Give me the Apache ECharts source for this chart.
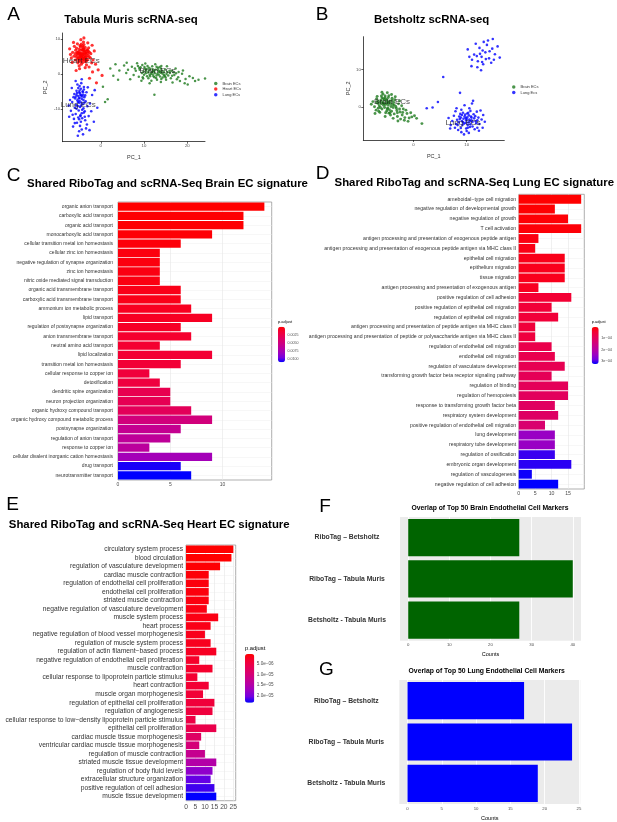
<!DOCTYPE html>
<html>
<head>
<meta charset="utf-8">
<title>Shared RiboTag and scRNA-Seq EC signatures</title>
<script src="https://cdn.jsdelivr.net/npm/echarts@6/dist/echarts.min.js"></script>
<style>
  html, body { margin: 0; padding: 0; background: #fff; }
  #chart { width: 617px; height: 822px; }
</style>
</head>
<body>
<div id="chart"></div>
<script>
// ---- data: scatter panels (PC_1, PC_2) ----
const tmBrain = [[12.3,0.8],[10.6,1.4],[14.1,0.2],[9.2,1.9],[15.6,-0.4],[11.4,-0.6],[13.2,1.7],[8.1,0.9],[16.8,0.5],[10.0,-0.2],[12.8,-1.1],[14.9,1.3],[7.2,2.1],[17.9,-0.9],[9.6,2.6],[11.9,2.2],[13.7,-0.7],[6.3,1.2],[18.8,0.1],[15.1,-1.6],[8.8,-0.8],[10.9,0.4],[12.0,-0.1],[13.5,0.6],[11.2,1.0],[14.5,-0.1],[9.9,0.7],[16.2,-1.2],[7.6,-0.3],[19.6,-1.4],[5.4,2.4],[4.3,1.0],[12.6,2.8],[10.3,3.0],[17.3,1.6],[14.0,2.3],[20.5,-0.6],[8.4,3.1],[15.9,0.9],[11.7,-1.9],[13.9,-2.3],[16.6,-2.4],[18.3,-2.0],[21.3,-1.1],[3.4,2.8],[2.2,1.6],[6.8,-1.5],[9.4,-1.9],[20.1,-3.0],[21.8,-2.0],[19.0,1.0],[12.9,-0.4],[11.6,0.1],[13.3,1.1],[10.2,1.5],[14.6,0.5],[12.1,1.3],[15.2,0.0],[9.0,1.2],[16.0,0.3],[11.0,-1.2],[13.0,-1.6],[7.9,1.6],[17.0,-0.3],[10.8,2.3],[8.6,2.3],[14.3,-1.0],[12.5,0.2],[5.9,0.3],[18.0,0.6],[22.6,-1.6],[24.1,-1.3],[1.0,-8.0],[1.6,-7.2],[12.4,-5.9],[0.5,-3.6],[4.0,-1.6],[2.9,-0.5],[6.0,3.2],[15.3,2.2],[17.6,-1.5],[19.4,-2.6],[11.3,-2.6],[13.6,2.0],[9.7,-0.9],[10.5,0.9],[12.2,-0.6],[14.8,-0.6],[16.4,0.9],[13.8,0.4],
  [11.8,0.5],[12.7,1.2],[13.4,-0.2],[10.4,0.2],[14.2,0.9],[11.1,1.8],[12.4,-0.9],[15.4,0.6],[9.5,0.3],[13.1,0.1],[10.7,-0.6],[14.7,-0.4],[12.0,0.7],[11.5,1.5],[13.9,1.6],[16.5,-0.5],[8.9,1.7],[12.9,2.1],[15.0,-1.0],[10.1,2.0],[13.7,0.8],[11.3,-0.2],[14.0,-1.4],[17.4,0.2],[9.8,-1.3]];
const tmHeart = [[-4.2,5.6],[-3.8,6.1],[-4.6,5.0],[-5.1,6.4],[-3.5,4.8],[-4.9,4.3],[-3.2,6.9],[-5.5,5.4],[-4.0,7.2],[-4.4,3.9],[-2.9,5.3],[-5.8,6.8],[-3.6,3.5],[-4.7,7.8],[-5.3,3.2],[-2.6,6.2],[-6.2,5.1],[-3.9,8.4],[-4.5,2.8],[-3.1,4.1],[-5.9,4.0],[-2.4,4.6],[-4.8,6.0],[-3.4,5.7],[-4.1,4.5],[-5.2,5.8],[-3.7,6.6],[-4.3,7.0],[-5.6,7.4],[-2.8,7.5],[-6.5,6.2],[-4.0,9.1],[-3.3,2.6],[-5.0,2.3],[-2.1,3.2],[-6.8,4.6],[-4.6,9.8],[-3.0,8.9],[-5.4,8.6],[-6.1,7.9],[-2.3,5.8],[-1.8,4.0],[-3.6,1.8],[-4.9,1.5],[-6.6,3.3],[-1.5,6.6],[-2.7,2.0],[-7.0,5.6],[-3.9,10.3],[-4.4,5.2],[-3.9,5.0],[-4.7,5.9],[-4.1,6.6],[-3.5,6.0],[-5.0,4.9],[-4.5,4.6],[-3.8,4.0],[-5.3,6.2],[-2.9,6.4],[-4.2,8.0],[-1.2,2.8],[-0.6,1.2],[-1.9,0.6],[0.3,-0.4],[-2.6,-1.2],[-1.0,-2.5],[-5.7,1.0],[-7.2,7.2],[-2.0,8.2],[-6.3,9.0],
  [-4.3,5.9],[-3.7,5.3],[-4.9,5.6],[-4.0,4.2],[-5.2,4.6],[-3.3,5.0],[-4.6,6.8],[-3.9,6.9],[-5.0,7.1],[-4.4,4.9],[-3.4,6.4],[-5.5,6.1],[-4.8,3.6],[-3.6,7.6],[-4.2,3.3],[-5.7,5.0],[-3.1,5.9],[-4.5,8.5],[-5.1,3.8],[-3.8,4.6],[-2.7,4.9],[-4.0,5.7],[-4.7,5.3],[-3.5,4.3],[-5.4,4.4],[-4.1,7.6],[-3.0,6.8],[-5.9,5.8],[-4.8,8.1],[-3.3,3.8]];
const tmLung = [[-4.8,-5.5],[-5.2,-6.3],[-4.4,-7.1],[-5.6,-4.8],[-4.1,-5.9],[-5.0,-8.2],[-3.8,-6.6],[-5.9,-7.0],[-4.6,-4.2],[-5.3,-9.1],[-4.2,-8.6],[-6.1,-5.7],[-3.5,-7.8],[-4.9,-3.4],[-5.7,-8.8],[-4.0,-9.8],[-6.3,-6.6],[-3.3,-5.2],[-5.1,-10.4],[-4.5,-2.6],[-6.0,-9.6],[-3.9,-11.0],[-5.4,-3.0],[-4.7,-11.8],[-6.6,-8.0],[-3.1,-9.2],[-5.8,-11.4],[-4.3,-12.6],[-6.9,-10.5],[-3.6,-13.2],[-5.5,-13.9],[-4.8,-14.8],[-6.2,-12.8],[-3.4,-15.5],[-5.0,-16.3],[-4.1,-17.2],[-6.4,-15.0],[-2.8,-12.0],[-2.5,-8.4],[-7.1,-7.4],[-2.2,-10.6],[-4.4,-1.5],[-5.8,-2.0],[-3.0,-3.8],[-6.7,-4.0],[-2.0,-6.0],[-7.3,-12.2],[-1.6,-13.6],[-2.6,-16.0],[-5.3,-17.6],[-4.9,-6.8],[-4.5,-6.1],[-5.4,-7.5],[-4.2,-4.9],[-5.0,-5.2],[-4.6,-9.0],[-3.8,-8.2],[-5.6,-6.0],[-4.3,-10.2],[-3.9,-4.4],[-1.4,-4.6],[-7.4,-9.0],[-0.8,-9.6],[-3.2,-14.4],[-6.0,-14.0],[-4.7,-12.0],[-4.4,-15.8],[-5.2,-12.4],[-3.7,-10.6],[-6.5,-11.6],
  [-4.7,-6.0],[-5.1,-7.0],[-4.3,-6.4],[-5.5,-5.4],[-4.0,-7.4],[-4.9,-4.7],[-5.3,-8.0],[-4.5,-8.1],[-3.6,-6.1],[-5.8,-6.5],[-4.1,-5.2],[-4.8,-9.4],[-5.6,-9.9],[-3.9,-3.7],[-5.2,-4.0],[-4.4,-11.2],[-5.0,-12.9],[-3.7,-12.2],[-4.6,-13.6],[-4.9,-7.7]];
const tmLabelNames = ['Heart ECs', 'Brain ECs', 'Lung ECs'];
const tmLabelX = [-4.5, 13.1, -5.2];
const tmLabelY = [3.7, 0.9, -8.9];

const bzBrain = [[-5.0,1.0],[-5.6,0.4],[-4.4,1.6],[-6.1,1.8],[-4.8,-0.3],[-5.9,-0.6],[-3.9,0.6],[-6.6,0.9],[-5.3,2.4],[-4.1,-1.2],[-6.9,2.2],[-5.2,-1.6],[-3.5,1.9],[-7.3,0.0],[-4.6,3.0],[-6.3,-1.5],[-3.2,-0.4],[-7.6,1.4],[-5.7,3.4],[-4.3,-2.2],[-2.8,0.8],[-6.0,2.9],[-3.6,-1.9],[-2.5,-1.4],[-7.0,-0.9],[-4.9,3.8],[-3.0,-2.6],[-2.1,-2.2],[-1.6,-2.9],[-1.2,-1.8],[-2.4,-3.3],[-0.8,-3.0],[-3.8,-3.1],[-1.9,-0.6],[-5.5,0.9],[-4.7,0.5],[-5.1,1.7],[-4.2,0.1],[-6.4,0.3],[-5.8,1.3],[-4.5,-0.8],[-5.4,-0.2],[-3.7,1.2],[-6.7,1.6],[-4.0,2.3],[-5.0,2.0],[-6.2,-0.2],[-3.3,0.1],[-7.9,0.7],[-6.8,2.8],[-2.2,0.3],[-1.4,-0.9],[-0.5,-1.6],[0.2,-2.4],[-2.9,-3.8],[-1.0,-3.9],[-4.1,3.3],[-7.2,-1.8],[-5.3,-2.6],[-3.4,2.7],[-5.9,3.9],[-2.6,1.6],[-6.5,-1.2],[-4.6,-1.7],[-3.1,-1.0],[-2.0,-1.5],[-0.3,-2.7],[-1.7,-3.6],[-4.8,1.3],[-5.6,2.2],[1.6,-4.5],[0.6,-3.1],
  [-5.2,0.6],[-4.6,1.1],[-5.7,1.0],[-4.9,-0.6],[-5.5,1.9],[-4.3,0.9],[-6.0,0.8],[-5.0,-1.1],[-4.0,1.7],[-6.3,1.3],[-3.8,-0.2],[-5.3,2.9],[-4.4,-1.6],[-6.6,-0.4],[-3.6,0.5],[-5.9,2.4],[-3.0,-1.6],[-2.6,-0.6],[-4.7,2.5],[-6.9,1.1]];
const bzLung = [[9.8,-3.0],[10.4,-2.3],[9.1,-3.8],[10.9,-3.6],[8.6,-2.6],[9.5,-4.5],[11.3,-2.0],[10.2,-4.9],[8.2,-3.5],[11.7,-3.9],[9.3,-1.6],[10.7,-1.1],[8.0,-4.6],[11.1,-5.3],[9.9,-5.8],[12.2,-2.9],[7.6,-2.4],[8.9,-5.7],[12.4,-4.6],[10.5,-0.4],[7.3,-3.8],[11.9,-1.3],[9.0,-0.8],[12.8,-3.4],[10.0,-6.5],[8.4,-6.2],[11.5,-6.0],[7.0,-4.9],[13.1,-2.2],[9.6,0.4],[11.0,0.9],[8.8,-1.9],[10.1,-2.8],[9.4,-3.2],[10.6,-3.9],[9.7,-2.1],[10.3,-4.2],[8.9,-2.9],[11.4,-3.1],[9.2,-4.9],[10.8,-2.6],[9.9,-3.6],[10.1,-1.8],[8.5,-4.1],[11.8,-4.4],[12.0,-5.6],[6.6,-3.0],[7.8,-5.6],[13.4,-4.0],[10.4,-7.0],[9.0,-6.8],[12.6,-1.0],[11.2,1.6],[7.9,-1.2],[13.0,-5.6],[10.6,-5.4],[8.1,-0.4],[12.3,-6.4],[9.5,-7.4],[6.9,-5.8],
  [10.0,-3.3],[9.6,-2.6],[10.5,-3.4],[9.3,-4.1],[10.9,-2.9],[9.8,-4.3],[10.3,-1.6],[11.1,-4.0],[8.7,-3.3],[11.6,-2.5],[10.2,-5.6],[9.1,-2.2],[12.0,-3.6],[8.3,-4.9],[10.7,-4.7],
  [12.8,13.4],[13.5,14.6],[12.1,12.2],[14.2,13.0],[11.4,14.0],[13.1,11.4],[14.8,15.6],[12.4,15.8],[11.0,12.6],[15.3,14.1],[13.8,16.6],[12.0,10.6],[14.6,11.8],[10.5,13.4],[13.2,17.4],[15.8,16.2],[11.7,16.9],[14.0,17.8],[12.7,9.8],[10.9,10.9],[15.1,12.6],[13.6,12.8],[12.5,14.2],[11.9,13.6],[14.3,14.9],[13.0,15.1],[16.2,13.2],[10.2,15.4],[14.9,18.2],[12.9,12.0],
  [5.6,8.0],[8.75,3.75],[4.6,1.3],[3.6,-0.2],[2.5,-0.4]];
const bzLabelNames = ['Brain ECs', 'Lung ECs'];
const bzLabelX = [-4.0, 9.3];
const bzLabelY = [1.3, -4.3];

const tmXTicks = [0, 10, 20];
const tmYTicks = [-10, 0, 10];
const bzXTicks = [0, 10];
const bzYTicks = [0, 10];

// ---- data: GO enrichment bar panels ----
const brainTerms = ['organic anion transport','carboxylic acid transport','organic acid transport','monocarboxylic acid transport','cellular transition metal ion homeostasis','cellular zinc ion homeostasis','negative regulation of synapse organization','zinc ion homeostasis','nitric oxide mediated signal transduction','organic acid transmembrane transport','carboxylic acid transmembrane transport','ammonium ion metabolic process','lipid transport','regulation of postsynapse organization','anion transmembrane transport','neutral amino acid transport','lipid localization','transition metal ion homeostasis','cellular response to copper ion','detoxification','dendritic spine organization','neuron projection organization','organic hydroxy compound transport','organic hydroxy compound metabolic process','postsynapse organization','regulation of anion transport','response to copper ion','cellular divalent inorganic cation homeostasis','drug transport','neurotransmitter transport'];
const brainCounts = [14,12,12,9,6,4,4,4,4,6,6,7,9,6,7,4,9,6,3,4,5,5,7,9,6,5,3,9,6,7];
const brainPadj = [0.00002,0.0001,0.0001,0.0002,0.0003,0.0004,0.0004,0.0005,0.0005,0.0007,0.0007,0.0009,0.0010,0.0011,0.0013,0.0014,0.0015,0.0016,0.0018,0.0020,0.0027,0.0029,0.0032,0.0048,0.0058,0.0062,0.0064,0.0077,0.0106,0.0109];
const brainTicks = [0, 5, 10];
const brainPadjTicks = [0.0025, 0.0050, 0.0075, 0.0100];
const brainPadjLabels = ['0.0025', '0.0050', '0.0075', '0.0100'];

const lungTerms = ['ameboidal\u2212type cell migration','negative regulation of developmental growth','negative regulation of growth','T cell activation','antigen processing and presentation of exogenous peptide antigen','antigen processing and presentation of exogenous peptide antigen via MHC class II','epithelial cell migration','epithelium migration','tissue migration','antigen processing and presentation of exogenous antigen','positive regulation of cell adhesion','positive regulation of epithelial cell migration','regulation of epithelial cell migration','antigen processing and presentation of peptide antigen via MHC class II','antigen processing and presentation of peptide or polysaccharide antigen via MHC class II','regulation of endothelial cell migration','endothelial cell migration','regulation of vasculature development','transforming growth factor beta receptor signaling pathway','regulation of binding','regulation of hemopoiesis','response to transforming growth factor beta','respiratory system development','positive regulation of endothelial cell migration','lung development','respiratory tube development','regulation of ossification','embryonic organ development','regulation of vasculogenesis','negative regulation of cell adhesion'];
const lungCounts = [19,11,15,19,6,5,14,14,14,6,16,10,12,5,5,10,11,14,10,15,15,11,12,8,11,11,11,16,4,12];
const lungPadj = [1e-6,3e-6,5e-6,8e-6,1.5e-5,1.8e-5,2.2e-5,2.3e-5,2.4e-5,2.8e-5,4.5e-5,5.0e-5,5.2e-5,5.5e-5,5.8e-5,7.5e-5,8.0e-5,8.5e-5,9.0e-5,9.5e-5,1.0e-4,1.05e-4,1.1e-4,1.25e-4,2.45e-4,2.45e-4,3.05e-4,3.1e-4,3.2e-4,3.25e-4];
const lungTicks = [0, 5, 10, 15];
const lungPadjTicks = [1e-4, 2e-4, 3e-4];
const lungPadjLabels = ['1e\u221204', '2e\u221204', '3e\u221204'];

const heartTerms = ['circulatory system process','blood circulation','regulation of vasculature development','cardiac muscle contraction','regulation of endothelial cell proliferation','endothelial cell proliferation','striated muscle contraction','negative regulation of vasculature development','muscle system process','heart process','negative regulation of blood vessel morphogenesis','regulation of muscle system process','regulation of actin filament\u2212based process','negative regulation of endothelial cell proliferation','muscle contraction','cellular response to lipoprotein particle stimulus','heart contraction','muscle organ morphogenesis','regulation of epithelial cell proliferation','regulation of angiogenesis','cellular response to low\u2212density lipoprotein particle stimulus','epithelial cell proliferation','cardiac muscle tissue morphogenesis','ventricular cardiac muscle tissue morphogenesis','regulation of muscle contraction','striated muscle tissue development','regulation of body fluid levels','extracellular structure organization','positive regulation of cell adhesion','muscle tissue development'];
const heartCounts = [25,24,18,12,12,12,12,11,17,13,10,13,16,7,14,6,12,9,15,14,5,16,8,7,10,16,14,13,15,16];
const heartPadj = [1e-7,1e-7,3e-7,6e-7,8e-7,9e-7,1.0e-6,1.2e-6,1.3e-6,1.5e-6,1.7e-6,1.9e-6,2.2e-6,2.6e-6,2.8e-6,3.1e-6,3.3e-6,3.6e-6,3.9e-6,4.2e-6,4.8e-6,5.5e-6,8.0e-6,1.0e-5,1.25e-5,1.5e-5,1.85e-5,2.1e-5,2.2e-5,2.36e-5];
const heartTicks = [0, 5, 10, 15, 20, 25];
const heartPadjTicks = [5e-6, 1e-5, 1.5e-5, 2e-5];
const heartPadjLabels = ['5.0e\u221206', '1.0e\u221205', '1.5e\u221205', '2.0e\u221205'];

// ---- data: overlap panels ----
const overlapPairs = ['RiboTag \u2013 Betsholtz', 'RiboTag \u2013 Tabula Muris', 'Betsholtz - Tabula Muris'];
const brainOverlap = [27, 40, 27];
const lungOverlap = [17, 24, 19];
const brainOverlapTicks = [0, 10, 20, 30, 40];
const lungOverlapTicks = [0, 5, 10, 15, 20, 25];

// ---- styling ----
const FONT = "'Liberation Sans', Arial, sans-serif";
// red -> blue as ggplot interpolates it (Lab space), sampled at 9 stops
const PADJ_COLORS = ['#FF0000','#F40031','#E80050','#DA006C','#C90089','#B500A5','#9A00C3','#7300E0','#0000FF'];
const EXPAND = 0.05;

const chart = echarts.init(document.getElementById('chart'), null, { renderer: 'canvas' });

const option = {
  animation: false,
  backgroundColor: '#fff',
  textStyle: { fontFamily: FONT },
  grid: [], xAxis: [], yAxis: [], series: [], visualMap: [], legend: [], graphic: []
};

function txt(x, y, text, font, align, color, rotation) {
  option.graphic.push({
    type: 'text', x: x, y: y, rotation: rotation || 0, silent: true,
    style: {
      text: text, font: font, fill: color || '#000',
      align: align || 'center', verticalAlign: 'middle',
      textAlign: align || 'center', textVerticalAlign: 'middle'
    }
  });
}

// scatter panel (A, B)
function addScatterPanel(box, xRange, yRange, xTicks, yTicks, nameGaps) {
  const gi = option.grid.length;
  option.grid.push({ left: box[0], top: box[1], width: box[2], height: box[3] });
  option.xAxis.push({
    gridIndex: gi, type: 'value', min: xRange[0], max: xRange[1],
    axisLine: { onZero: false, lineStyle: { color: '#000', width: 0.7 } },
    axisTick: { length: 2, customValues: xTicks, lineStyle: { color: '#000', width: 0.6 } },
    axisLabel: { customValues: xTicks, fontSize: 4.3, color: '#4D4D4D', margin: 2.5 },
    splitLine: { show: false },
    name: 'PC_1', nameLocation: 'middle', nameGap: nameGaps[0],
    nameTextStyle: { fontSize: 5.5, color: '#333' }
  });
  option.yAxis.push({
    gridIndex: gi, type: 'value', min: yRange[0], max: yRange[1],
    axisLine: { onZero: false, lineStyle: { color: '#000', width: 0.7 } },
    axisTick: { length: 2, customValues: yTicks, lineStyle: { color: '#000', width: 0.6 } },
    axisLabel: { customValues: yTicks, fontSize: 4.3, color: '#4D4D4D', margin: 2.5 },
    splitLine: { show: false },
    name: 'PC_2', nameLocation: 'middle', nameGap: nameGaps[1], nameRotate: 90,
    nameTextStyle: { fontSize: 5.5, color: '#333' }
  });
  return gi;
}

function addPoints(gi, name, points, color, size) {
  option.series.push({
    type: 'scatter', name: name, xAxisIndex: gi, yAxisIndex: gi,
    data: points, symbolSize: size, silent: true,
    itemStyle: { color: color }
  });
}

function addClusterLabels(gi, names, xs, ys) {
  option.series.push({
    type: 'scatter', xAxisIndex: gi, yAxisIndex: gi, symbolSize: 0, silent: true, z: 5,
    data: names.map((n, i) => [xs[i], ys[i], n]),
    label: {
      show: true, position: 'inside', formatter: p => p.data[2],
      fontSize: 8, color: '#1A1A1A', fontFamily: FONT
    }
  });
}

// GO barplot panel (C, D, E)
function addGoPanel(box, terms, counts, padj, ticks, labelSize, labelMargin, bar, padjTicks, padjLabels, legendFont) {
  const gi = option.grid.length;
  option.grid.push({
    left: box[0], top: box[1], width: box[2], height: box[3],
    show: true, backgroundColor: '#fff', borderColor: '#8C8C8C', borderWidth: 0.7
  });
  option.xAxis.push({
    gridIndex: gi, type: 'value', min: 0, max: Math.max(...counts) * (1 + EXPAND),
    axisLine: { show: false, onZero: false },
    axisTick: { length: 1.8, customValues: ticks, lineStyle: { color: '#333', width: 0.5 } },
    axisLabel: { customValues: ticks, fontSize: labelSize, color: '#4D4D4D', margin: 2.5 },
    splitLine: { show: true, lineStyle: { color: '#E6E6E6', width: 0.6 } }
  });
  option.yAxis.push({
    gridIndex: gi, type: 'category', inverse: true, data: terms,
    axisLine: { show: false },
    axisTick: { length: 1.5, alignWithLabel: true, lineStyle: { color: '#333', width: 0.5 } },
    axisLabel: { interval: 0, fontSize: labelSize, color: '#333', margin: labelMargin },
    splitLine: { show: true, alignWithLabel: true, lineStyle: { color: '#EFEFEF', width: 0.5 } }
  });
  const si = option.series.length;
  option.series.push({
    type: 'bar', xAxisIndex: gi, yAxisIndex: gi, silent: true,
    barCategoryGap: '10%',
    encode: { x: 0, y: 1 },
    data: terms.map((t, i) => [counts[i], i, padj[i]])
  });
  const lo = Math.min(...padj), hi = Math.max(...padj);
  option.visualMap.push({
    type: 'continuous', seriesIndex: si, dimension: 2, min: lo, max: hi,
    inRange: { color: PADJ_COLORS }, inverse: true, calculable: false,
    left: bar[0], top: bar[1], itemWidth: bar[2], itemHeight: bar[3],
    padding: 0, text: null, showLabel: false, hoverLink: false
  });
  // colourbar title and tick labels
  txt(bar[0], bar[1] - legendFont[1], 'p.adjust', legendFont[0] + 'px ' + FONT, 'left', '#000');
  padjTicks.forEach((v, k) => {
    const y = bar[1] + (v - lo) / (hi - lo) * bar[3];
    txt(bar[0] + bar[2] + 2.5, y, padjLabels[k], legendFont[2] + 'px ' + FONT, 'left', '#4D4D4D');
  });
}

// overlap barplot panel (F, G)
function addOverlapPanel(box, values, ticks, color) {
  const gi = option.grid.length;
  const span = Math.max(...values);
  option.grid.push({
    left: box[0], top: box[1], width: box[2], height: box[3],
    show: true, backgroundColor: '#EBEBEB', borderWidth: 0
  });
  option.xAxis.push({
    gridIndex: gi, type: 'value', min: -span * EXPAND, max: span * (1 + EXPAND),
    axisLine: { show: false, onZero: false },
    axisTick: { length: 1.8, customValues: ticks, lineStyle: { color: '#333', width: 0.5 } },
    axisLabel: { customValues: ticks, fontSize: 4.3, color: '#4D4D4D', margin: 2.5 },
    splitLine: { show: true, lineStyle: { color: '#fff', width: 0.9 } },
    name: 'Counts', nameLocation: 'middle', nameGap: 11,
    nameTextStyle: { fontSize: 5.5, color: '#000' }
  });
  option.yAxis.push({
    gridIndex: gi, type: 'category', inverse: true, data: overlapPairs,
    axisLine: { show: false },
    axisTick: { length: 1.8, alignWithLabel: true, lineStyle: { color: '#555', width: 0.5 } },
    axisLabel: { interval: 0, fontSize: 6.8, fontWeight: 'bold', color: '#333', align: 'center', margin: 53 },
    splitLine: { show: false }
  });
  option.series.push({
    type: 'bar', xAxisIndex: gi, yAxisIndex: gi, silent: true,
    barCategoryGap: '10%', data: values,
    itemStyle: { color: color }
  });
}

// ---- A: Tabula Muris ----
const gA = addScatterPanel([62.7, 33, 142.3, 108.7], [-8.8, 24.1], [-19.3, 11.7], tmXTicks, tmYTicks, [13, 14]);
addPoints(gA, 'Brain ECs', tmBrain, '#1E7B1E', 2.5);
addPoints(gA, 'Heart ECs', tmHeart, '#FF0000', 3.2);
addPoints(gA, 'Lung ECs', tmLung, '#0000FF', 2.6);
addClusterLabels(gA, tmLabelNames, tmLabelX, tmLabelY);

// ---- B: Betsholtz ----
const gB = addScatterPanel([363.3, 36.7, 141, 103.3], [-9.4, 17.06], [-8.9, 18.8], bzXTicks, bzYTicks, [13, 12]);
addPoints(gB, 'Brain ECs', bzBrain, '#1E7B1E', 2.9);
addPoints(gB, 'Lung Ecs', bzLung, '#0000FF', 2.6);
addClusterLabels(gB, bzLabelNames, bzLabelX, bzLabelY);

option.legend.push({
  left: 214, top: 81.5, orient: 'vertical', padding: 0, selectedMode: false,
  itemWidth: 3.5, itemHeight: 3.5, itemGap: 1.6, icon: 'circle',
  textStyle: { fontSize: 4, color: '#333' },
  data: ['Brain ECs', 'Heart ECs', 'Lung ECs']
});
option.legend.push({
  left: 512, top: 85, orient: 'vertical', padding: 0, selectedMode: false,
  itemWidth: 3.5, itemHeight: 3.5, itemGap: 1.4, icon: 'circle',
  textStyle: { fontSize: 4, color: '#333' },
  data: ['Brain ECs', 'Lung Ecs']
});

// ---- C, D, E ----
addGoPanel([118, 202, 153.7, 278], brainTerms, brainCounts, brainPadj, brainTicks, 5, 5,
  [278, 326.7, 7, 35.6], brainPadjTicks, brainPadjLabels, [4, 5, 3.6]);
addGoPanel([518.7, 194.3, 65.6, 294.7], lungTerms, lungCounts, lungPadj, lungTicks, 5.2, 2.5,
  [591.7, 327, 7, 37], lungPadjTicks, lungPadjLabels, [4, 5, 3.8]);
addGoPanel([186, 545, 49.7, 255.7], heartTerms, heartCounts, heartPadj, heartTicks, 6.7, 3,
  [245, 654, 9.3, 48.7], heartPadjTicks, heartPadjLabels, [5.8, 6, 4.6]);

// ---- F, G ----
addOverlapPanel([400, 517, 181, 123.7], brainOverlap, brainOverlapTicks, '#006400');
addOverlapPanel([399.3, 680, 181, 124.3], lungOverlap, lungOverlapTicks, '#0000FF');

// ---- panel letters and titles ----
const LETTER = '19px ' + FONT;
const BIG = 'bold 11.4px ' + FONT;
const SMALL = 'bold 6.8px ' + FONT;
txt(13.5, 14.5, 'A', LETTER);
txt(322, 14.5, 'B', LETTER);
txt(13.5, 176, 'C', LETTER);
txt(322.5, 173.5, 'D', LETTER);
txt(12.5, 504.5, 'E', LETTER);
txt(325, 507, 'F', LETTER);
txt(326.5, 670, 'G', LETTER);
txt(131, 19.5, 'Tabula Muris scRNA-seq', BIG);
txt(431.7, 20, 'Betsholtz scRNA-seq', BIG);
txt(167.5, 184, 'Shared RiboTag and scRNA-Seq Brain EC signature', BIG);
txt(474.3, 183.3, 'Shared RiboTag and scRNA-Seq Lung EC signature', BIG);
txt(149.2, 525, 'Shared RiboTag and scRNA-Seq Heart EC signature', BIG);
txt(490, 508.3, 'Overlap of Top 50 Brain Endothelial Cell Markers', SMALL);
txt(486.7, 670.7, 'Overlap of Top 50 Lung Endothelial Cell Markers', SMALL);

chart.setOption(option);

window.addEventListener('resize', () => {
  chart.resize();
});
</script>
</body>
</html>
